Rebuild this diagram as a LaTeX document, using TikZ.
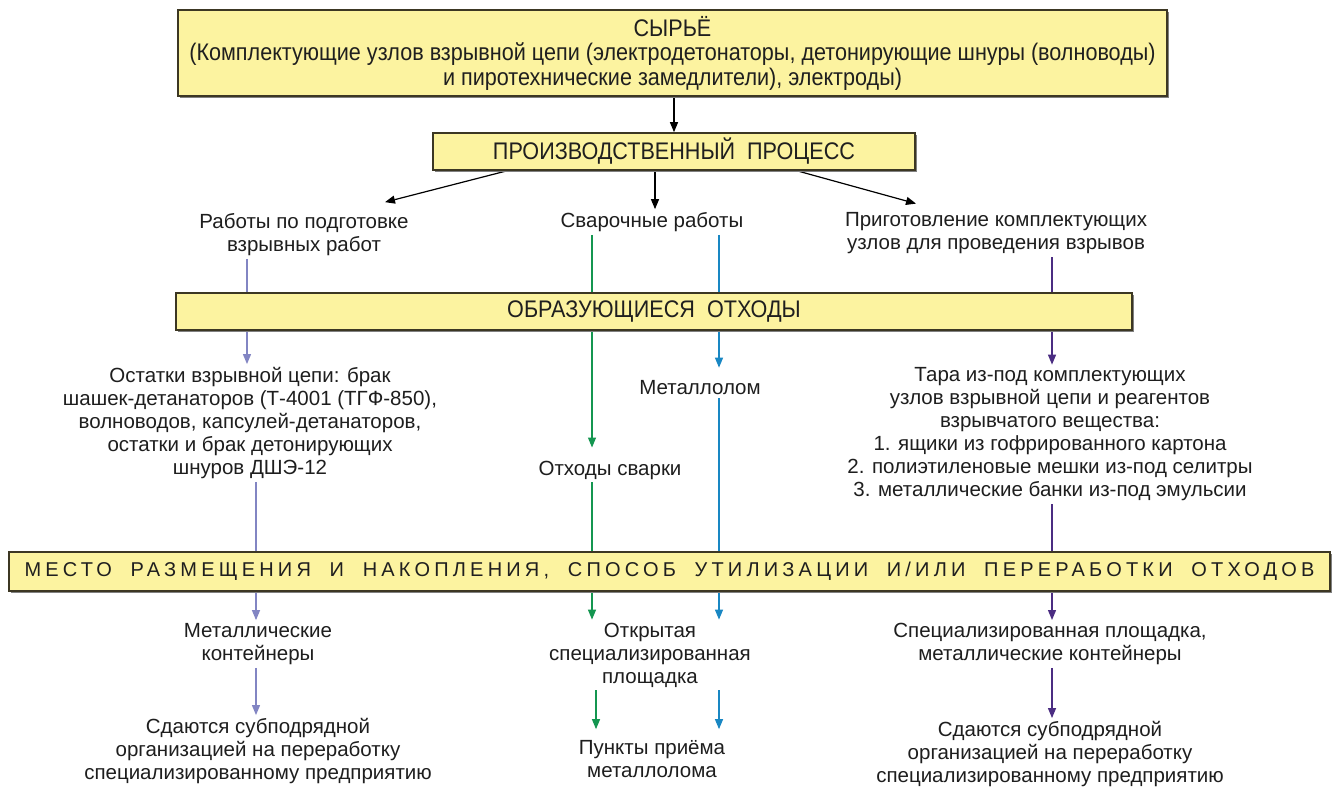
\documentclass[tikz,border=0pt]{standalone}
\usepackage{fontspec}
\setmainfont{Liberation Sans}
\newfontfamily\narrowfont{Liberation Sans}[FakeStretch=0.9]
\usetikzlibrary{arrows.meta,shadows}

\definecolor{boxfill}{RGB}{252,243,160}
\definecolor{boxline}{RGB}{60,55,35}
\definecolor{txt}{RGB}{30,30,30}
\definecolor{cLav}{RGB}{130,133,195}
\definecolor{cGrn}{RGB}{20,150,80}
\definecolor{cBlu}{RGB}{25,135,195}
\definecolor{cPur}{RGB}{75,45,130}

\pgfdeclarelayer{bg}
\pgfdeclarelayer{lines}
\pgfsetlayers{bg,lines,main}

\tikzset{
  ybox/.style={draw=boxline, line width=1.6pt, fill=boxfill, inner sep=0pt,
    text=black!88, align=center, font=\narrowfont\fontsize{24}{24.5}\selectfont,
    drop shadow={shadow xshift=1.5pt, shadow yshift=-1.5pt, fill=black!50, opacity=1}},
  lbl/.style={align=center, inner sep=3pt, text=txt, font=\fontsize{20.5}{23}\selectfont},
  conn/.style={line width=1.2pt},
  tip/.style={-{Triangle[length=10pt,width=8pt]}},
}

\begin{document}
\begin{tikzpicture}[x=1pt,y=-1pt]
\begin{pgfonlayer}{bg}
\fill[white] (0,0) rectangle (1337,787);
\end{pgfonlayer}
\useasboundingbox (0,0) rectangle (1337,787);

% column positions of the coloured flow lines
\coordinate (cA) at (247,0);
\coordinate (cB) at (256,0);
\coordinate (cG) at (592,0);
\coordinate (cG2) at (596,0);
\coordinate (cBl) at (719,0);
\coordinate (cP) at (1052,0);

% yellow header boxes
\node[ybox, minimum width=989pt, minimum height=86pt] (raw) at (672.5,53)
  {СЫРЬЁ\\(Комплектующие узлов взрывной цепи (электродетонаторы, детонирующие шнуры (волноводы)\\и пиротехнические замедлители), электроды)};
\node[ybox, minimum width=482pt, minimum height=37pt] (proc) at (674,151.5)
  {ПРОИЗВОДСТВЕННЫЙ\ \ ПРОЦЕСС};
\node[ybox, minimum width=956pt, minimum height=37pt] (waste) at (654,311.5)
  {ОБРАЗУЮЩИЕСЯ\ \ ОТХОДЫ};
\node[ybox, minimum width=1321pt, minimum height=39pt, font=\fontsize{20}{22}\selectfont] (place) at (669.5,571.5)
  {\makebox[1290pt][s]{\addfontfeature{LetterSpace=21}МЕСТО РАЗМЕЩЕНИЯ И НАКОПЛЕНИЯ, СПОСОБ УТИЛИЗАЦИИ И/ИЛИ ПЕРЕРАБОТКИ ОТХОДОВ}};

% process kinds
\node[lbl] (prep) at (304,234.5) {Работы по подготовке\\взрывных работ};
\node[lbl] (weld) at (652,222) {Сварочные работы};
\node[lbl] (parts) at (996,233.5) {Приготовление комплектующих\\узлов для проведения взрывов};

% waste kinds
\node[lbl] (rest) at (250,423) {Остатки взрывной цепи: брак\\шашек-детанаторов (Т-4001 (ТГФ-850),\\волноводов, капсулей-детанаторов,\\остатки и брак детонирующих\\шнуров ДШЭ-12};
\node[lbl] (scrap) at (700,388) {Металлолом};
\node[lbl] (wweld) at (610,470) {Отходы сварки};
\node[lbl] (tara) at (1050,434.5) {Тара из-под комплектующих\\узлов взрывной цепи и реагентов\\взрывчатого вещества:\\1. ящики из гофрированного картона\\2. полиэтиленовые мешки из-под селитры\\3. металлические банки из-под эмульсии};

% storage and disposal
\node[lbl] (contL) at (258,644) {Металлические\\контейнеры};
\node[lbl] (giveL) at (258,751) {Сдаются субподрядной\\организацией на переработку\\специализированному предприятию};
\node[lbl] (open) at (650,655) {Открытая\\специализированная\\площадка};
\node[lbl] (recv) at (652,759) {Пункты приёма\\металлолома};
\node[lbl] (contR) at (1050,644) {Специализированная площадка,\\металлические контейнеры};
\node[lbl] (giveR) at (1050,754) {Сдаются субподрядной\\организацией на переработку\\специализированному предприятию};

\begin{pgfonlayer}{lines}
% black arrows from raw materials to processes
\draw[conn,tip] (raw.south -| proc) -- (proc.north);
\draw[conn,tip] ([xshift=-167pt]proc.south) -- ([xshift=81pt,yshift=8pt]prep.north);
\draw[conn,tip] ([xshift=-19pt]proc.south) -- ([xshift=3pt]weld.north);
\draw[conn,tip] ([xshift=123pt]proc.south) -- ([xshift=-80pt,yshift=6pt]parts.north);

% explosive-chain residues
\draw[conn,cLav] (prep.south -| cA) -- (waste.north -| cA);
\draw[conn,cLav,tip] (waste.south -| cA) -- (rest.north -| cA);
\draw[conn,cLav] (rest.south -| cB) -- (place.north -| cB);
\draw[conn,cLav,tip] (place.south -| cB) -- (contL.north -| cB);
\draw[conn,cLav,tip] (contL.south -| cB) -- (giveL.north -| cB);

% welding waste
\draw[conn,cGrn,tip,shorten >=10pt] (weld.south -| cG) -- (wweld.north -| cG);
\draw[conn,cGrn] (wweld.south -| cG) -- (place.north -| cG);
\draw[conn,cGrn,tip] (place.south -| cG) -- (open.north -| cG);
\draw[conn,cGrn,tip,shorten >=8pt] (open.south -| cG2) -- (recv.north -| cG2);

% scrap metal
\draw[conn,cBlu,tip,shorten >=10pt] (weld.south -| cBl) -- (scrap.north -| cBl);
\draw[conn,cBlu] (scrap.south -| cBl) -- (place.north -| cBl);
\draw[conn,cBlu,tip] (place.south -| cBl) -- (open.north -| cBl);
\draw[conn,cBlu,tip,shorten >=8pt] (open.south -| cBl) -- (recv.north -| cBl);

% packaging
\draw[conn,cPur] (parts.south -| cP) -- (waste.north -| cP);
\draw[conn,cPur,tip] (waste.south -| cP) -- (tara.north -| cP);
\draw[conn,cPur] (tara.south -| cP) -- (place.north -| cP);
\draw[conn,cPur,tip] (place.south -| cP) -- (contR.north -| cP);
\draw[conn,cPur,tip] (contR.south -| cP) -- (giveR.north -| cP);
\end{pgfonlayer}
\end{tikzpicture}
\end{document}
